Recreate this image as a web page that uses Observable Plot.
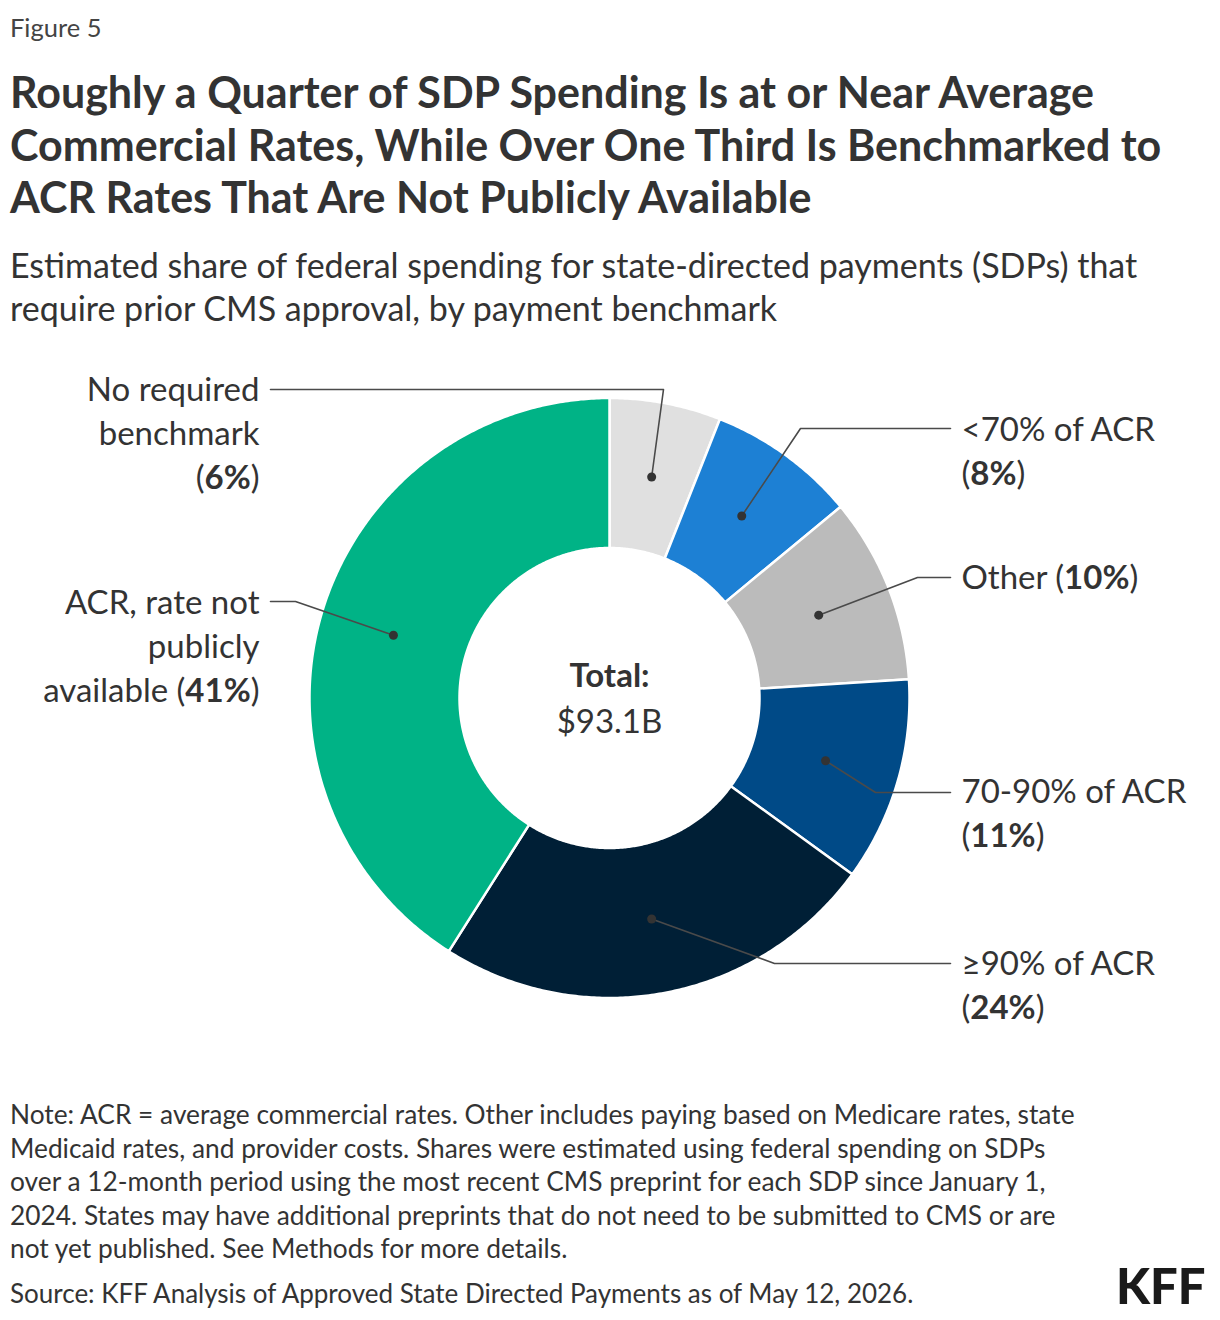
<!DOCTYPE html>
<html>
<head>
<meta charset="utf-8">
<script src="https://cdn.jsdelivr.net/npm/d3@7"></script>
<script src="https://cdn.jsdelivr.net/npm/@observablehq/plot@0.6"></script>
<style>
  body { margin: 0; background: #fff; font-family: Lato, "Noto Sans", sans-serif; color: #333; }
  #page { position: relative; width: 1220px; height: 1320px; overflow: hidden; }
  .blk { position: absolute; left: 10px; white-space: nowrap; }
  #fig { top: 12px; font-size: 25.5px; line-height: 30px; color: #444; }
  #title { top: 66px; font-size: 43px; font-weight: 700; line-height: 52.5px; color: #333; }
  #subtitle { top: 243px; font-size: 34px; line-height: 43px; }
  #chart { position: absolute; left: 0; top: 340px; }
  #note { top: 1098px; font-size: 26.3px; line-height: 33.5px; }
  #source { top: 1276px; font-size: 26px; line-height: 34px; }
  #logo { position: absolute; left: 1116px; top: 1261px; font-size: 49px; line-height: 49px; font-weight: 900; letter-spacing: 0px; color: #1a1a1a; }
</style>
</head>
<body>
<div id="page">
  <div id="fig" class="blk">Figure 5</div>
  <div id="title" class="blk">Roughly a Quarter of SDP Spending Is at or Near Average<br>Commercial Rates, While Over One Third Is Benchmarked to<br>ACR Rates That Are Not Publicly Available</div>
  <div id="subtitle" class="blk">Estimated share of federal spending for state-directed payments (SDPs) that<br>require prior CMS approval, by payment benchmark</div>
  <div id="chart"></div>
  <div id="note" class="blk">Note: ACR = average commercial rates. Other includes paying based on Medicare rates, state<br>Medicaid rates, and provider costs. Shares were estimated using federal spending on SDPs<br>over a 12-month period using the most recent CMS preprint for each SDP since January 1,<br>2024. States may have additional preprints that do not need to be submitted to CMS or are<br>not yet published. See Methods for more details.</div>
  <div id="source" class="blk">Source: KFF Analysis of Approved State Directed Payments as of May 12, 2026.</div>
  <div id="logo">KFF</div>
</div>
<script>
// Payment benchmark categories, clockwise from 12 o'clock
const categories = [
  "No required benchmark",
  "<70% of ACR",
  "Other",
  "70-90% of ACR",
  "≥90% of ACR",
  "ACR, rate not publicly available"
];
// Share of federal SDP spending (%)
const shares = [6, 8, 10, 11, 24, 41];
// Label text, line by line (percent is appended below)
const labelLines = [
  ["No required", "benchmark"],
  ["<70% of ACR"],
  ["Other"],
  ["70-90% of ACR"],
  ["≥90% of ACR"],
  ["ACR, rate not", "publicly", "available"]
];
const totalTitle = "Total:";
const totalLabel = "$93.1B";

// Styling
const sliceColors = ["#e0e0e0", "#1d80d4", "#bbbbbb", "#004a87", "#001f36", "#00b386"];
const ink = "#333";
const R_OUT = 300, R_IN = 150;
const LINE_H = 44;
const FONT = "Lato, 'Noto Sans', sans-serif";

// Label placement around the ring (pixels from the ring centre, y down)
const labelLayout = [
  { side: "left",  elbow: [54, -308.5],  y: -307.5, inline: false },
  { side: "right", elbow: [191, -269.5], y: -267.5, inline: false },
  { side: "right", elbow: [308, -120.5], y: -119.5, inline: true },
  { side: "right", elbow: [266, 94.5],   y: 94.5,   inline: false },
  { side: "right", elbow: [165, 265.5],  y: 266.5,  inline: false },
  { side: "left",  elbow: [-314, -96.5], y: -94.5,  inline: true }
];
const LEADER_END = { left: -339, right: 341 };
const TEXT_X = { left: -350, right: 352 };

// Slice angles
const total = d3.sum(shares);
let acc = 0;
const slices = categories.map((category, i) => {
  const a0 = (acc / total) * 2 * Math.PI;
  acc += shares[i];
  const a1 = (acc / total) * 2 * Math.PI;
  return { category, share: shares[i], a0, a1 };
});
const polar = (r, a) => ({ x: r * Math.sin(a), y: -r * Math.cos(a) });

// Ring segments as closed outlines
const slicePts = slices.flatMap((s) => {
  const n = Math.max(2, Math.ceil((s.a1 - s.a0) / (Math.PI / 360)));
  const pts = [];
  for (let k = 0; k <= n; k++) pts.push({ ...polar(R_OUT, s.a0 + (s.a1 - s.a0) * k / n), category: s.category });
  for (let k = n; k >= 0; k--) pts.push({ ...polar(R_IN, s.a0 + (s.a1 - s.a0) * k / n), category: s.category });
  return pts;
});

// Anchor dots at the middle of each segment
const anchors = slices.map((s) => ({ ...polar((R_OUT + R_IN) / 2, (s.a0 + s.a1) / 2), category: s.category }));

// Leader lines: anchor -> elbow -> label
const leaders = anchors.flatMap((p, i) => {
  const L = labelLayout[i];
  return [
    { x: p.x, y: p.y, category: p.category },
    { x: L.elbow[0], y: L.elbow[1], category: p.category },
    { x: LEADER_END[L.side], y: L.elbow[1], category: p.category }
  ];
});

// Label rows
const labelRows = slices.flatMap((s, i) => {
  const L = labelLayout[i];
  const pct = `(${s.share}%)`;
  const lines = labelLines[i].slice();
  if (L.inline) lines[lines.length - 1] += " " + pct; else lines.push(pct);
  return lines.map((text, j) => ({ text, side: L.side, x: TEXT_X[L.side], y: L.y + j * LINE_H }));
});

const svg = Plot.plot({
  width: 1220,
  height: 740,
  margin: 0,
  x: { type: "linear", domain: [-609, 611], range: [0, 1220], axis: null },
  y: { type: "linear", domain: [-357.5, 382.5], range: [0, 740], axis: null },
  color: { domain: categories, range: sliceColors },
  style: { fontFamily: FONT, color: ink, background: "transparent", overflow: "visible" },
  marks: [
    Plot.line(slicePts, {
      x: "x", y: "y", z: "category", fill: "category",
      stroke: "white", strokeWidth: 2.5, curve: "linear-closed"
    }),
    Plot.line(leaders, { x: "x", y: "y", z: "category", stroke: "#4a4a4a", strokeWidth: 1.6, curve: "linear" }),
    Plot.dot(anchors, { x: "x", y: "y", r: 4.5, fill: "#333", stroke: null }),
    Plot.text(labelRows.filter((d) => d.side === "left"), {
      x: "x", y: "y", text: "text", textAnchor: "end", fontSize: 33, fill: ink
    }),
    Plot.text(labelRows.filter((d) => d.side === "right"), {
      x: "x", y: "y", text: "text", textAnchor: "start", fontSize: 33, fill: ink
    }),
    Plot.text([totalTitle], { x: () => 0, y: () => -21.5, text: (d) => d, fontSize: 33, fontWeight: "bold", fill: ink }),
    Plot.text([totalLabel], { x: () => 0, y: () => 24.5, text: (d) => d, fontSize: 33, fill: ink })
  ]
});

// Set the percentage inside parentheses in bold
svg.querySelectorAll("text").forEach((t) => {
  if (t.querySelector("tspan")) return;
  const m = /^(.*\()(\d+%)(\).*)$/.exec(t.textContent);
  if (!m) return;
  t.textContent = "";
  const ns = "http://www.w3.org/2000/svg";
  const a = document.createElementNS(ns, "tspan"); a.textContent = m[1];
  const b = document.createElementNS(ns, "tspan"); b.textContent = m[2]; b.setAttribute("font-weight", "bold");
  const c = document.createElementNS(ns, "tspan"); c.textContent = m[3];
  t.append(a, b, c);
});

document.getElementById("chart").append(svg);
</script>
</body>
</html>
